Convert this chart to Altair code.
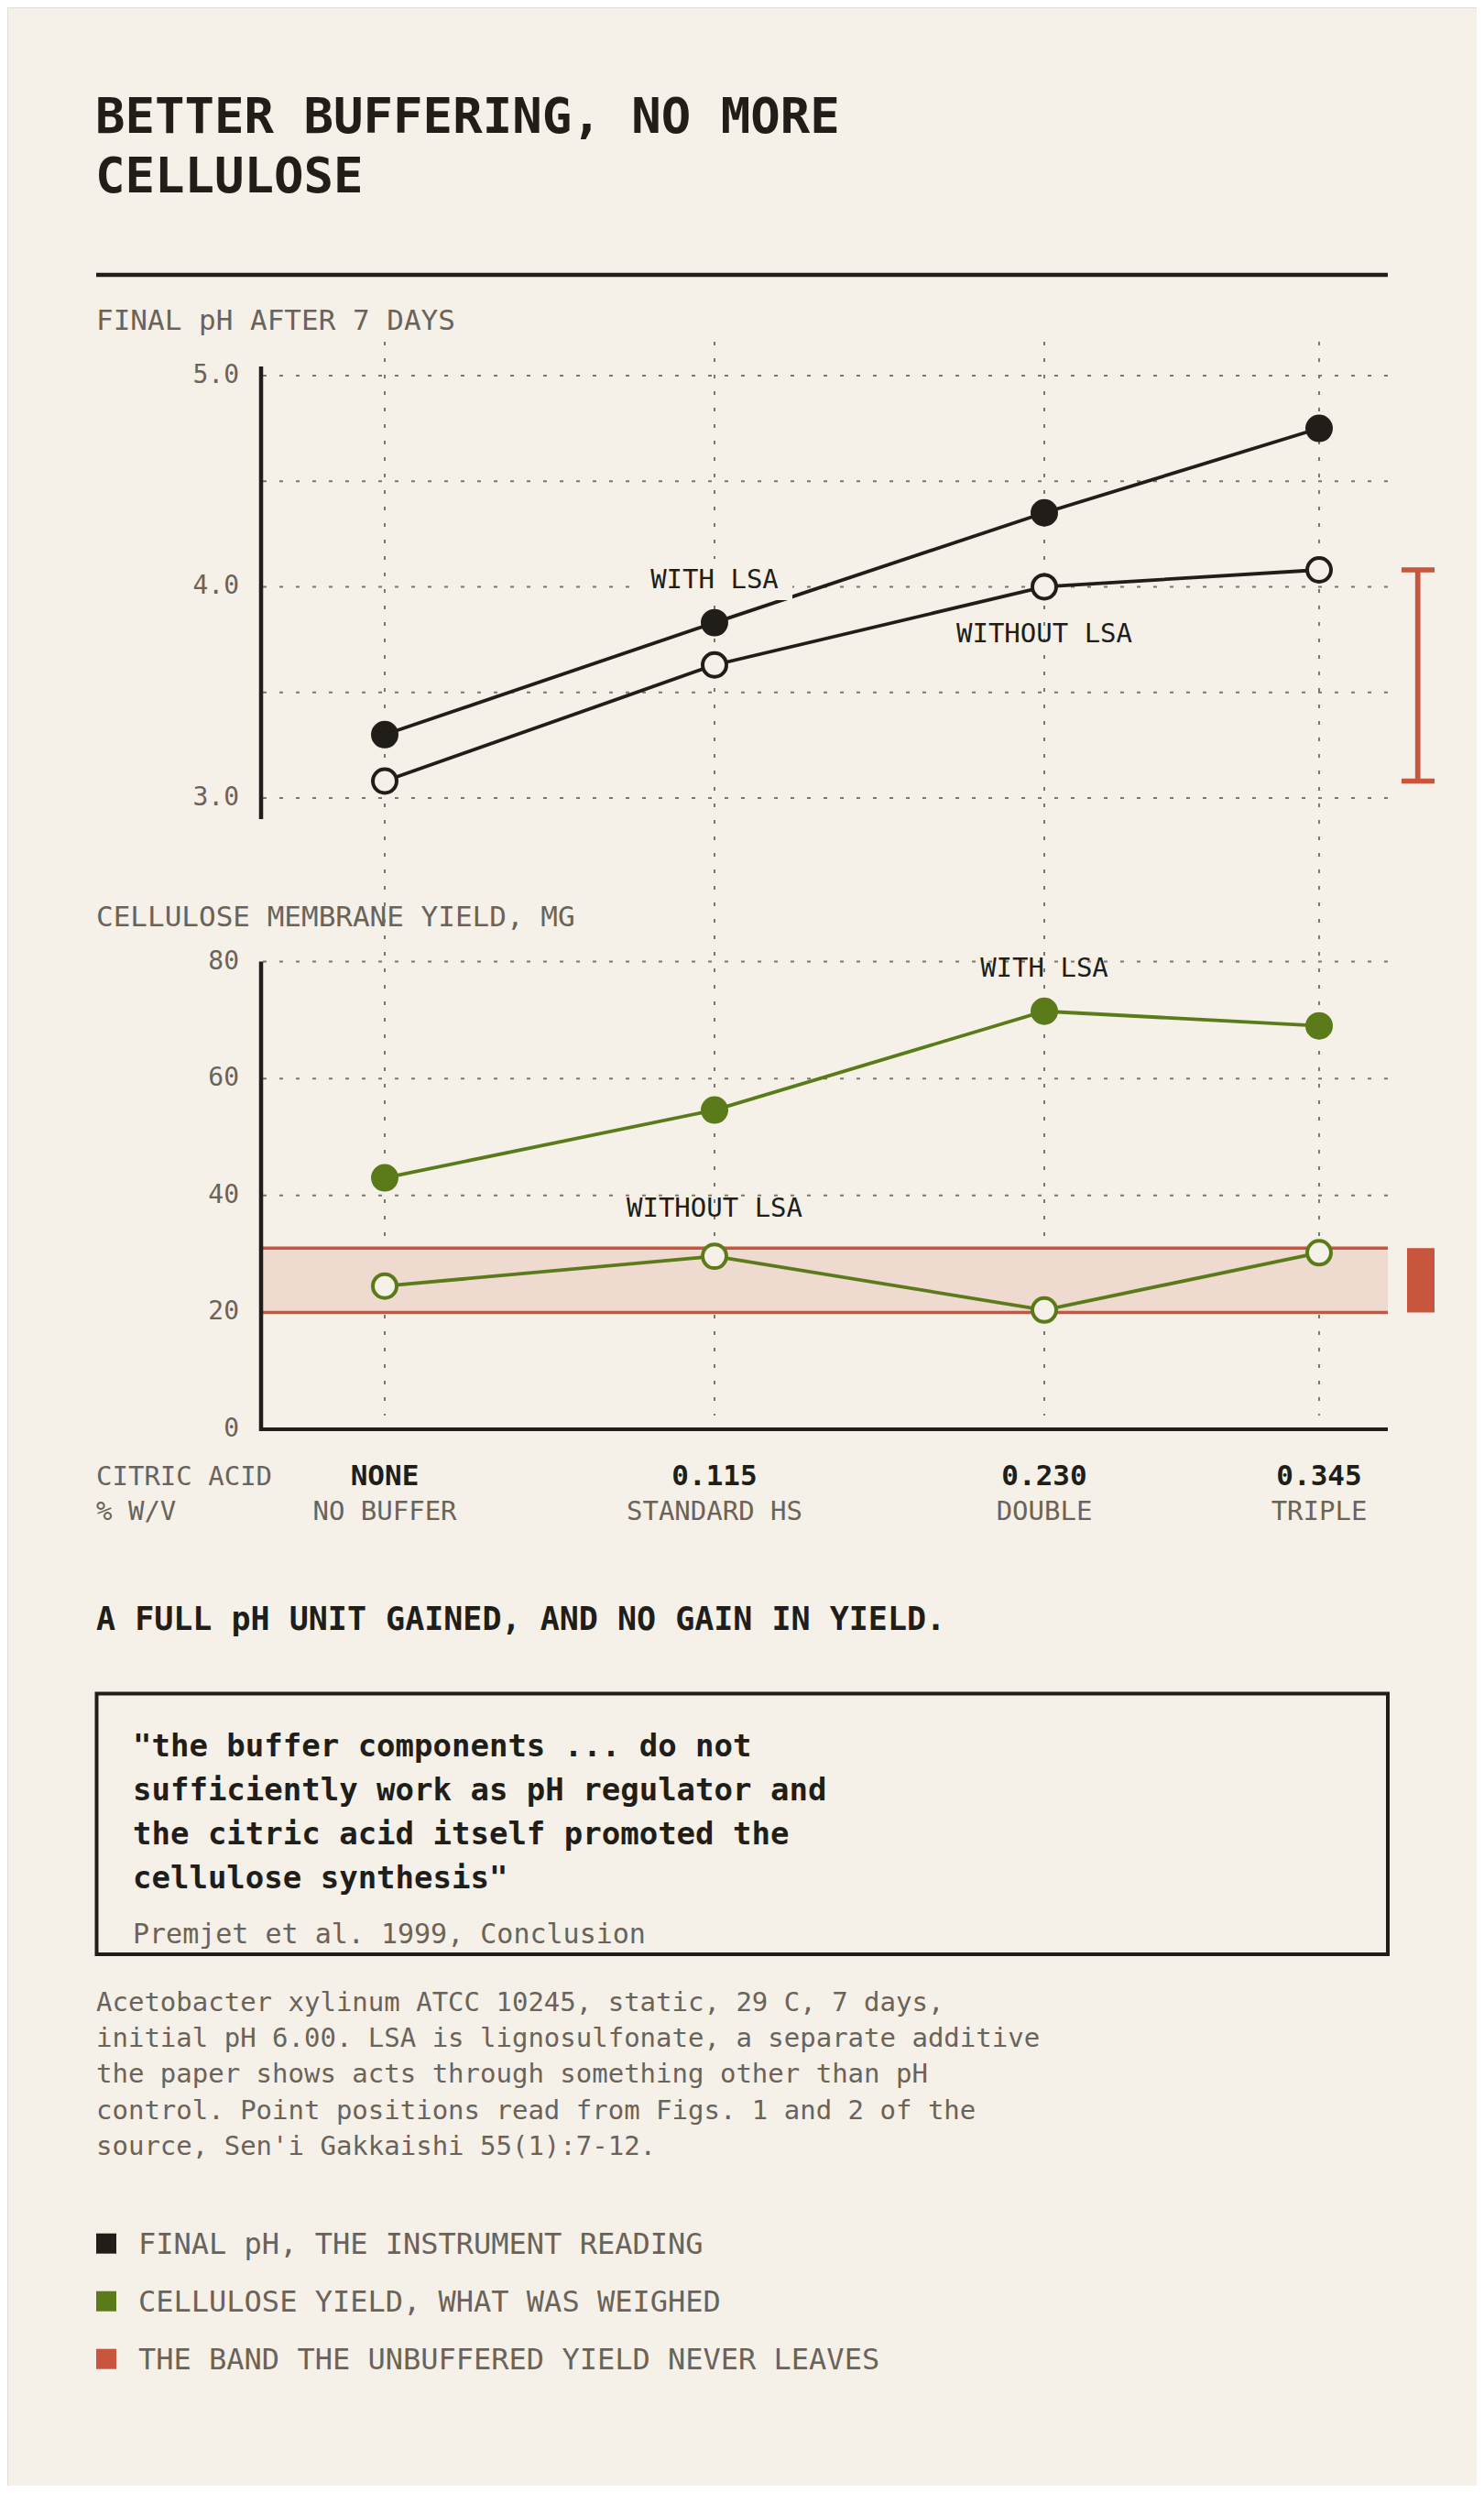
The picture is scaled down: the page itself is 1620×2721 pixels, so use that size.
import altair as alt
import pandas as pd

# citric acid dose, % w/v (x positions are a hand-laid piecewise scale)
citric = [0.0, 0.115, 0.230, 0.345]
dose_label = ["NONE", "0.115", "0.230", "0.345"]
dose_name = ["NO BUFFER", "STANDARD HS", "DOUBLE", "TRIPLE"]

# final pH after 7 days
ph_with = [3.30, 3.83, 4.35, 4.75]
ph_without = [3.08, 3.63, 4.00, 4.08]

# cellulose membrane yield, mg
mg_with = [43.0, 54.6, 71.5, 69.0]
mg_without = [24.5, 29.6, 20.4, 30.2]

band_low = [20]
band_high = [31]

ph_ticks = [5.0, 4.0, 3.0]
ph_grid = [5.0, 4.5, 4.0, 3.5, 3.0]
mg_ticks = [80, 60, 40, 20, 0]
mg_grid = [80, 60, 40, 20]

title_text = "BETTER BUFFERING, NO MORE\nCELLULOSE"
ph_title = "FINAL pH AFTER 7 DAYS"
mg_title = "CELLULOSE MEMBRANE YIELD, MG"
takeaway = "A FULL pH UNIT GAINED, AND NO GAIN IN YIELD."
quote_text = ('"the buffer components ... do not\n'
              'sufficiently work as pH regulator and\n'
              'the citric acid itself promoted the\n'
              'cellulose synthesis"')
quote_source = "Premjet et al. 1999, Conclusion"
notes = ("Acetobacter xylinum ATCC 10245, static, 29 C, 7 days,\n"
         "initial pH 6.00. LSA is lignosulfonate, a separate additive\n"
         "the paper shows acts through something other than pH\n"
         "control. Point positions read from Figs. 1 and 2 of the\n"
         "source, Sen'i Gakkaishi 55(1):7-12.")
legend_labels = ["FINAL pH, THE INSTRUMENT READING",
                 "CELLULOSE YIELD, WHAT WAS WEIGHED",
                 "THE BAND THE UNBUFFERED YIELD NEVER LEAVES"]

BG = "#f5f1e9"
INK = "#211d18"
MUTED = "#6b6359"
GRID = "#7d766c"
GREEN = "#5b7b1a"
RED = "#c8553d"
BAND = "#efdacf"
FONT = "DejaVu Sans Mono"
legend_colors = [INK, GREEN, RED]

X = alt.Scale(domain=citric, range=[412, 772, 1132, 1432], nice=False, zero=False)
PH = alt.Scale(domain=[2.9, 5.043], range=[886, 392], nice=False, zero=False)
MG = alt.Scale(domain=[0, 80], range=[1552, 1041.5], nice=False, zero=False)

ph_df = pd.DataFrame({"citric": citric * 2,
                      "series": ["with"] * 4 + ["without"] * 4,
                      "ph": ph_with + ph_without})
mg_df = pd.DataFrame({"citric": citric * 2,
                      "series": ["with"] * 4 + ["without"] * 4,
                      "mg": mg_with + mg_without})
dose_df = pd.DataFrame({"citric": citric, "label": dose_label, "name": dose_name})
band_df = pd.DataFrame({"lo": band_low, "hi": band_high})


def xenc():
    return alt.X("citric:Q", scale=X, axis=None)


def text_layer(t, x, y, size, color=INK, weight="normal", align="left", lh=None):
    kw = dict(font=FONT, fontSize=size, color=color, fontWeight=weight,
              align=align, baseline="alphabetic", lineBreak="\n")
    if lh:
        kw["lineHeight"] = lh
    return alt.Chart(pd.DataFrame({"t": [t]})).mark_text(**kw).encode(
        x=alt.value(x), y=alt.value(y), text="t:N")


layers = []

# header
layers.append(text_layer(title_text, 96, 137, 54, weight="bold", lh=65))
layers.append(alt.Chart(pd.DataFrame({"a": [0]})).mark_rule(color=INK, strokeWidth=4.5).encode(
    x=alt.value(97), x2=alt.value(1507), y=alt.value(292)))
layers.append(text_layer(ph_title, 97, 352, 31, color=MUTED))
layers.append(text_layer(mg_title, 97, 1003, 31, color=MUTED))

# vertical dashed guides through both panels
layers.append(alt.Chart(dose_df).mark_rule(color=GRID, strokeWidth=2, strokeDash=[4, 14]).encode(
    x=xenc(), y=alt.value(365), y2=alt.value(1537)))

# pH gridlines
layers.append(alt.Chart(pd.DataFrame({"ph": ph_grid})).mark_rule(
    color=GRID, strokeWidth=2, strokeDash=[4, 14]).encode(
    y=alt.Y("ph:Q", scale=PH, axis=None), x=alt.value(279), x2=alt.value(1507)))

# yield gridlines
layers.append(alt.Chart(pd.DataFrame({"mg": mg_grid})).mark_rule(
    color=GRID, strokeWidth=2, strokeDash=[4, 14]).encode(
    y=alt.Y("mg:Q", scale=MG, axis=None), x=alt.value(279), x2=alt.value(1507)))

# unbuffered yield band
layers.append(alt.Chart(band_df).mark_rect(fill=BAND).encode(
    y=alt.Y("lo:Q", scale=MG, axis=None), y2="hi:Q", x=alt.value(277), x2=alt.value(1507)))
for col in ["lo", "hi"]:
    layers.append(alt.Chart(band_df).mark_rule(color=RED, strokeWidth=3.5).encode(
        y=alt.Y(f"{col}:Q", scale=MG, axis=None), x=alt.value(277), x2=alt.value(1507)))
layers.append(alt.Chart(band_df).mark_rect(fill=RED).encode(
    y=alt.Y("lo:Q", scale=MG, axis=None), y2="hi:Q", x=alt.value(1528), x2=alt.value(1558)))

# pH range bar for the unbuffered series
bar_df = pd.DataFrame({"lo": [min(ph_without)], "hi": [max(ph_without)]})
layers.append(alt.Chart(bar_df).mark_rule(color=RED, strokeWidth=5.7).encode(
    y=alt.Y("lo:Q", scale=PH, axis=None), y2="hi:Q", x=alt.value(1539.7)))
for col in ["lo", "hi"]:
    layers.append(alt.Chart(bar_df).mark_rule(color=RED, strokeWidth=5.7).encode(
        y=alt.Y(f"{col}:Q", scale=PH, axis=None), x=alt.value(1522), x2=alt.value(1558)))

# axis lines
layers.append(alt.Chart(pd.DataFrame({"a": [0]})).mark_rule(color=INK, strokeWidth=4.5).encode(
    x=alt.value(277), y=alt.value(392), y2=alt.value(886)))
layers.append(alt.Chart(pd.DataFrame({"a": [0]})).mark_rule(color=INK, strokeWidth=4.5).encode(
    x=alt.value(277), y=alt.value(1041.5), y2=alt.value(1554)))
layers.append(alt.Chart(pd.DataFrame({"a": [0]})).mark_rule(color=INK, strokeWidth=4).encode(
    x=alt.value(275), x2=alt.value(1507), y=alt.value(1552)))

# tick labels
layers.append(alt.Chart(pd.DataFrame({"ph": ph_ticks})).mark_text(
    font=FONT, fontSize=28, color=MUTED, align="right", baseline="middle").encode(
    y=alt.Y("ph:Q", scale=PH, axis=None), x=alt.value(253),
    text=alt.Text("ph:Q", format=".1f")))
layers.append(alt.Chart(pd.DataFrame({"mg": mg_ticks})).mark_text(
    font=FONT, fontSize=28, color=MUTED, align="right", baseline="middle").encode(
    y=alt.Y("mg:Q", scale=MG, axis=None), x=alt.value(253),
    text=alt.Text("mg:Q", format="d")))

# x labels
layers.append(alt.Chart(dose_df).mark_text(
    font=FONT, fontSize=31, fontWeight="bold", color=INK, align="center",
    baseline="alphabetic").encode(
    x=xenc(), y=alt.value(1612.7), text="label:N"))
layers.append(alt.Chart(dose_df).mark_text(
    font=FONT, fontSize=29, color=MUTED, align="center", baseline="alphabetic").encode(
    x=xenc(), y=alt.value(1651.3), text="name:N"))
layers.append(text_layer("CITRIC ACID", 97, 1612.7, 29, color=MUTED))
layers.append(text_layer("% W/V", 97, 1651.3, 29, color=MUTED))

# pH lines and points
layers.append(alt.Chart(ph_df).mark_line(color=INK, strokeWidth=3.8).encode(
    x=xenc(), y=alt.Y("ph:Q", scale=PH, axis=None), detail="series:N"))
layers.append(alt.Chart(pd.DataFrame({"a": [0]})).mark_rect(fill=BG).encode(
    x=alt.value(689), x2=alt.value(857), y=alt.value(602), y2=alt.value(647)))
for s, fill in [("with", INK), ("without", BG)]:
    layers.append(alt.Chart(ph_df[ph_df.series == s]).mark_circle(
        size=674, fill=fill, stroke=INK, strokeWidth=4, opacity=1).encode(
        x=xenc(), y=alt.Y("ph:Q", scale=PH, axis=None)))

# yield lines and points
layers.append(alt.Chart(mg_df).mark_line(color=GREEN, strokeWidth=3.8).encode(
    x=xenc(), y=alt.Y("mg:Q", scale=MG, axis=None), detail="series:N"))
for s, fill in [("with", GREEN), ("without", BG)]:
    layers.append(alt.Chart(mg_df[mg_df.series == s]).mark_circle(
        size=674, fill=fill, stroke=GREEN, strokeWidth=4, opacity=1).encode(
        x=xenc(), y=alt.Y("mg:Q", scale=MG, axis=None)))


# series labels, anchored to a point of their series
def series_label(df, field, scale, idx_series, idx_x, t, dy):
    row = df[(df.series == idx_series) & (df.citric == citric[idx_x])].assign(t=t)
    return alt.Chart(row).mark_text(font=FONT, fontSize=29, color=INK, align="center",
                                    baseline="alphabetic", dy=dy).encode(
        x=xenc(), y=alt.Y(f"{field}:Q", scale=scale, axis=None), text="t:N")


layers.append(series_label(ph_df, "ph", PH, "with", 1, "WITH LSA", -38))
layers.append(series_label(ph_df, "ph", PH, "without", 2, "WITHOUT LSA", 61))
layers.append(series_label(mg_df, "mg", MG, "with", 2, "WITH LSA", -38))
layers.append(series_label(mg_df, "mg", MG, "without", 1, "WITHOUT LSA", -43))

# takeaway and quote
layers.append(text_layer(takeaway, 97, 1771.4, 35, weight="bold"))
layers.append(alt.Chart(pd.DataFrame({"a": [0]})).mark_rect(
    fillOpacity=0, stroke=INK, strokeWidth=4).encode(
    x=alt.value(97.5), x2=alt.value(1507), y=alt.value(1840.5), y2=alt.value(2125)))
layers.append(text_layer(quote_text, 137, 1909.3, 34, weight="bold", lh=47.8))
layers.append(text_layer(quote_source, 137, 2113, 30, color=MUTED))
layers.append(text_layer(notes, 97, 2187, 29, color=MUTED, lh=39.2))

# legend
for i, (lab, col) in enumerate(zip(legend_labels, legend_colors)):
    base_y = 2451.7 + i * 63
    layers.append(alt.Chart(pd.DataFrame({"a": [0]})).mark_rect(fill=col).encode(
        x=alt.value(97), x2=alt.value(119), y=alt.value(base_y - 22), y2=alt.value(base_y)))
    layers.append(text_layer(lab, 143, base_y, 32, color=MUTED))

chart = alt.layer(*layers).resolve_scale(y="independent").properties(
    width=1604, height=2705,
    autosize=alt.AutoSizeParams(type="none"),
    padding=0,
    background=BG,
).configure_view(stroke=None).configure(font=FONT)

chart.save("out.html", embed_options={"renderer": "svg", "actions": False})
